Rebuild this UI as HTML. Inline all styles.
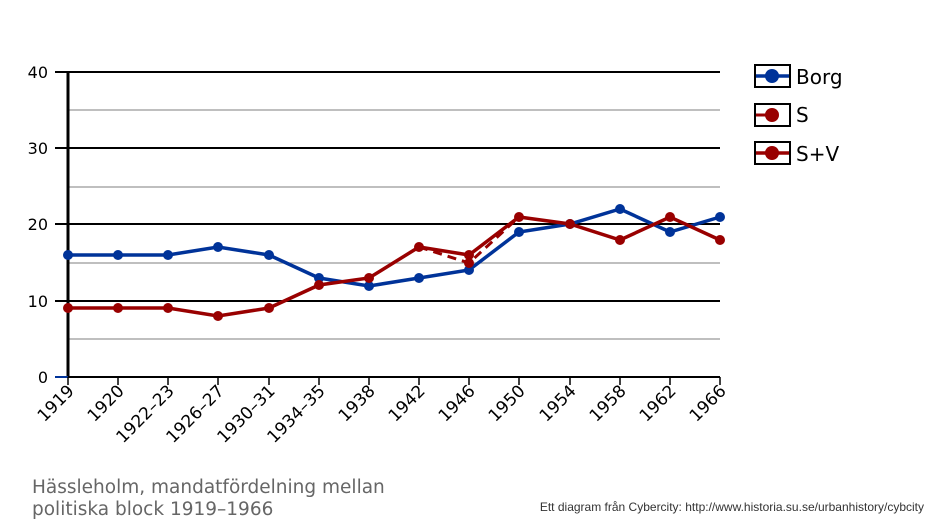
<!DOCTYPE html>
<html><head><meta charset="utf-8"><style>body{margin:0;background:#fff}</style></head><body>
<svg width="938" height="521" xmlns="http://www.w3.org/2000/svg" font-family="DejaVu Sans, Liberation Sans, sans-serif">
<g stroke="#999" stroke-width="1.2">
<line x1="68" x2="720" y1="339" y2="339"/><line x1="68" x2="720" y1="263" y2="263"/>
<line x1="68" x2="720" y1="187" y2="187"/><line x1="68" x2="720" y1="110" y2="110"/></g>
<g stroke="#000" stroke-width="2">
<line x1="55" x2="720" y1="301" y2="301"/><line x1="55" x2="720" y1="224" y2="224"/>
<line x1="55" x2="720" y1="148" y2="148"/><line x1="55" x2="720" y1="72" y2="72"/>
<line x1="68" x2="720" y1="377" y2="377"/></g>
<line x1="68" x2="68" y1="72" y2="377" stroke="#000" stroke-width="3"/>
<line x1="55" x2="68" y1="377" y2="377" stroke="#003399" stroke-width="2"/>
<g stroke="#000" stroke-width="1.5">
<line x1="68" x2="68" y1="377" y2="385"/><line x1="118" x2="118" y1="377" y2="385"/><line x1="168" x2="168" y1="377" y2="385"/><line x1="218" x2="218" y1="377" y2="385"/><line x1="269" x2="269" y1="377" y2="385"/><line x1="319" x2="319" y1="377" y2="385"/><line x1="369" x2="369" y1="377" y2="385"/><line x1="419" x2="419" y1="377" y2="385"/><line x1="469" x2="469" y1="377" y2="385"/><line x1="519" x2="519" y1="377" y2="385"/><line x1="570" x2="570" y1="377" y2="385"/><line x1="620" x2="620" y1="377" y2="385"/><line x1="670" x2="670" y1="377" y2="385"/><line x1="720" x2="720" y1="377" y2="385"/></g>
<g font-size="16" text-anchor="end" fill="#000">
<text x="48" y="383">0</text><text x="48" y="307">10</text><text x="48" y="230">20</text><text x="48" y="154">30</text><text x="48" y="78">40</text></g>
<g font-size="17" text-anchor="end" fill="#000">
<text transform="translate(75,392) rotate(-45)">1919</text>
<text transform="translate(125,392) rotate(-45)">1920</text>
<text transform="translate(175,392) rotate(-45)">1922–23</text>
<text transform="translate(225,392) rotate(-45)">1926–27</text>
<text transform="translate(276,392) rotate(-45)">1930–31</text>
<text transform="translate(326,392) rotate(-45)">1934–35</text>
<text transform="translate(376,392) rotate(-45)">1938</text>
<text transform="translate(426,392) rotate(-45)">1942</text>
<text transform="translate(476,392) rotate(-45)">1946</text>
<text transform="translate(526,392) rotate(-45)">1950</text>
<text transform="translate(577,392) rotate(-45)">1954</text>
<text transform="translate(627,392) rotate(-45)">1958</text>
<text transform="translate(677,392) rotate(-45)">1962</text>
<text transform="translate(727,392) rotate(-45)">1966</text></g>
<polyline fill="none" stroke="#990000" stroke-width="3" stroke-dasharray="9,6" points="419,247 469,263 519,217"/>
<polyline fill="none" stroke="#003399" stroke-width="3.5" points="68,255 118,255 168,255 218,247 269,255 319,278 369,286 419,278 469,270 519,232 570,224 620,209 670,232 720,217"/>
<polyline fill="none" stroke="#990000" stroke-width="3.5" points="68,308 118,308 168,308 218,316 269,308 319,285 369,278 419,247 469,255 519,217 570,224 620,240 670,217 720,240"/>
<g fill="#003399"><circle cx="68" cy="255" r="5"/><circle cx="118" cy="255" r="5"/><circle cx="168" cy="255" r="5"/><circle cx="218" cy="247" r="5"/><circle cx="269" cy="255" r="5"/><circle cx="319" cy="278" r="5"/><circle cx="369" cy="286" r="5"/><circle cx="419" cy="278" r="5"/><circle cx="469" cy="270" r="5"/><circle cx="519" cy="232" r="5"/><circle cx="570" cy="224" r="5"/><circle cx="620" cy="209" r="5"/><circle cx="670" cy="232" r="5"/><circle cx="720" cy="217" r="5"/></g>
<g fill="#990000"><circle cx="68" cy="308" r="5"/><circle cx="118" cy="308" r="5"/><circle cx="168" cy="308" r="5"/><circle cx="218" cy="316" r="5"/><circle cx="269" cy="308" r="5"/><circle cx="319" cy="285" r="5"/><circle cx="369" cy="278" r="5"/><circle cx="419" cy="247" r="5"/><circle cx="469" cy="255" r="5"/><circle cx="469" cy="263" r="5"/><circle cx="519" cy="217" r="5"/><circle cx="570" cy="224" r="5"/><circle cx="620" cy="240" r="5"/><circle cx="670" cy="217" r="5"/><circle cx="720" cy="240" r="5"/></g>
<g stroke="#000" stroke-width="2" fill="#fff">
<rect x="755" y="65" width="35" height="22"/><rect x="755" y="104" width="35" height="22"/><rect x="755" y="142" width="35" height="22"/></g>
<line x1="756" x2="789" y1="76" y2="76" stroke="#003399" stroke-width="3.5"/><circle cx="772" cy="76" r="7" fill="#003399"/>
<line x1="756" x2="772" y1="115" y2="115" stroke="#990000" stroke-width="3"/><circle cx="772" cy="115" r="7" fill="#990000"/>
<line x1="756" x2="789" y1="153" y2="153" stroke="#990000" stroke-width="3.5"/><circle cx="772" cy="153" r="7" fill="#990000"/>
<g font-size="20" fill="#000"><text x="796" y="84">Borg</text><text x="796" y="122">S</text><text x="796" y="161">S+V</text></g>
<g font-size="18.5" fill="#666"><text x="32" y="493">Hässleholm, mandatfördelning  mellan</text><text x="32" y="515">politiska block 1919–1966</text></g>
<text x="924" y="511" font-size="12" fill="#333" text-anchor="end" font-family="Liberation Sans, sans-serif">Ett diagram från Cybercity: http://www.historia.su.se/urbanhistory/cybcity</text>
</svg>
</body></html>
